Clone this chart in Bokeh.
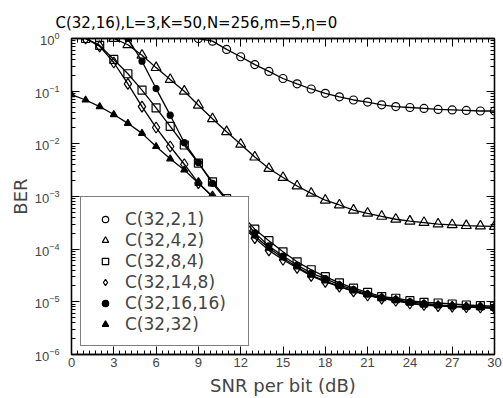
from bokeh.plotting import figure
from bokeh.models import (LinearAxis, LogAxis, FixedTicker, Legend, LegendItem,
                          Range1d, CustomJSTickFormatter)
from bokeh.embed import file_html
from bokeh.resources import INLINE

# ---------------- data ----------------
title_text = "C(32,16),L=3,K=50,N=256,m=5,\u03b7=0"
x_label = "SNR per bit (dB)"
y_label = "BER"
x_ticks = [0, 3, 6, 9, 12, 15, 18, 21, 24, 27, 30]
y_ticks = [1e-6, 1e-5, 1e-4, 1e-3, 1e-2, 1e-1, 1e0]

labels = ["C(32,2,1)", "C(32,4,2)", "C(32,8,4)", "C(32,14,8)", "C(32,16,16)", "C(32,32)"]

snr_a = list(range(9, 31))
ber_a = [1.0, 0.89, 0.62, 0.45, 0.32, 0.237, 0.174, 0.138, 0.110, 0.091, 0.078,
         0.068, 0.062, 0.055, 0.051, 0.049, 0.047, 0.045, 0.044, 0.043, 0.042, 0.042]

snr_b = list(range(3, 31))
ber_b = [1.0, 0.76, 0.48, 0.28, 0.166, 0.10, 0.054, 0.030, 0.017, 0.0098, 0.0056,
         0.0034, 0.0023, 0.00158, 0.00115, 0.00085, 0.00069, 0.00055, 0.00048,
         0.00042, 0.00037, 0.00034, 0.00032, 0.00030, 0.00029, 0.00028, 0.000275, 0.00027]

snr_c = list(range(1, 31))
ber_c = [1.0, 0.74, 0.40, 0.214, 0.105, 0.048, 0.0214, 0.0095, 0.0043, 0.0019,
         0.00091, 0.00047, 0.00024, 0.000145, 8.9e-5, 5.75e-5, 4.07e-5, 3.0e-5,
         2.3e-5, 1.82e-5, 1.51e-5, 1.26e-5, 1.17e-5, 1.05e-5, 9.8e-6, 9.5e-6,
         9.1e-6, 8.7e-6, 8.5e-6, 8.3e-6]

snr_d = list(range(1, 31))
ber_d = [1.0, 0.71, 0.35, 0.138, 0.051, 0.0204, 0.0089, 0.0041, 0.0018, 0.0010,
         0.00052, 0.00029, 0.000162, 9.5e-5, 6.3e-5, 4.4e-5, 3.1e-5, 2.4e-5,
         1.95e-5, 1.58e-5, 1.32e-5, 1.15e-5, 1.05e-5, 9.3e-6, 8.7e-6, 8.3e-6,
         8.1e-6, 7.9e-6, 7.8e-6, 7.6e-6]

snr_e = list(range(4, 31))
ber_e = [1.0, 0.37, 0.112, 0.035, 0.0105, 0.0044, 0.00178, 0.00085, 0.00043,
         0.000204, 0.000115, 7.4e-5, 5.0e-5, 3.5e-5, 2.75e-5, 2.1e-5, 1.7e-5,
         1.41e-5, 1.2e-5, 1.1e-5, 1.0e-5, 9.3e-6, 8.7e-6, 8.3e-6, 8.1e-6, 8.1e-6, 7.9e-6]

snr_f = list(range(0, 31))
ber_f = [0.086, 0.068, 0.051, 0.036, 0.0245, 0.0158, 0.0089, 0.0052, 0.0032,
         0.00178, 0.0010, 0.00055, 0.00032, 0.000178, 0.000105, 6.8e-5, 4.6e-5,
         3.2e-5, 2.5e-5, 1.95e-5, 1.62e-5, 1.35e-5, 1.17e-5, 1.05e-5, 9.5e-6,
         8.7e-6, 8.5e-6, 8.1e-6, 7.9e-6, 7.8e-6, 7.6e-6]

series = [
    (snr_a, ber_a, "circle", False, 8),
    (snr_b, ber_b, "triangle", False, 10),
    (snr_c, ber_c, "square", False, 8),
    (snr_d, ber_d, "diamond", False, 11),
    (snr_e, ber_e, "circle", True, 6),
    (snr_f, ber_f, "triangle", True, 7),
]

# ---------------- figure ----------------
FONT = "DejaVu Sans"
TICK_FONT = "Liberation Sans"

W, H = 503, 398
B_LEFT, B_RIGHT, B_TOP, B_BOTTOM = 71, 9, 38, 43

p = figure(width=W, height=H, y_axis_type="log",
           x_range=Range1d(0, 30), y_range=Range1d(1e-6, 1),
           output_backend="svg", toolbar_location=None,
           min_border_left=B_LEFT, min_border_right=B_RIGHT,
           min_border_top=B_TOP, min_border_bottom=B_BOTTOM)

p.xgrid.visible = False
p.ygrid.visible = False
p.outline_line_color = "black"
p.outline_line_width = 1.3
p.background_fill_color = "white"
p.border_fill_color = "white"

p.title.text = title_text
p.title.align = "left"
p.title.offset = -16
p.title.standoff = 13
p.title.vertical_align = "bottom"
p.title.text_font = FONT
p.title.text_font_size = "15px"
p.title.text_font_style = "normal"
p.title.text_color = "black"

x_ticker = FixedTicker(ticks=x_ticks,
                       minor_ticks=[3 * i / 7 for i in range(71) if i % 7])
y_ticker = FixedTicker(ticks=y_ticks,
                       minor_ticks=[m * 10.0 ** e for e in range(-6, 0) for m in range(2, 10)])

def style_axis(ax):
    ax.axis_line_color = "black"
    ax.axis_line_width = 1.3
    ax.major_tick_line_color = "black"
    ax.minor_tick_line_color = "black"
    ax.major_tick_line_width = 1
    ax.minor_tick_line_width = 1
    ax.major_tick_in = 8
    ax.major_tick_out = 0
    ax.minor_tick_in = 4
    ax.minor_tick_out = 0

xa = p.xaxis[0]
xa.ticker = x_ticker
style_axis(xa)
xa.axis_label = x_label
xa.axis_label_text_font = FONT
xa.axis_label_text_font_size = "18px"
xa.axis_label_text_font_style = "normal"
xa.axis_label_standoff = 5
xa.major_label_text_font = TICK_FONT
xa.major_label_text_font_size = "13px"
xa.major_label_standoff = 3

ya = p.yaxis[0]
ya.ticker = y_ticker
style_axis(ya)
ya.axis_label = y_label
ya.axis_label_text_font = FONT
ya.axis_label_text_font_size = "18px"
ya.axis_label_text_font_style = "normal"
ya.axis_label_standoff = 1
ya.major_label_text_font = TICK_FONT
ya.major_label_text_font_size = "13px"
ya.major_label_standoff = 12

blank = CustomJSTickFormatter(code="return ''")
top = LinearAxis(ticker=x_ticker, formatter=blank, major_label_standoff=0,
                 major_label_text_font_size="1px")
style_axis(top)
p.add_layout(top, "above")
right = LogAxis(ticker=y_ticker, formatter=blank, major_label_standoff=0,
                major_label_text_font_size="1px")
style_axis(right)
p.add_layout(right, "right")

items = []
for (xs, ys, mk, filled, sz), lab in zip(series, labels):
    p.line(xs, ys, line_color="black", line_width=1.3)
    r = p.scatter(xs, ys, marker=mk, size=sz, line_color="black", line_width=1.2,
                  fill_color="black" if filled else None)
    items.append(LegendItem(label=lab, renderers=[r]))

legend = Legend(items=items, location=(9, 8))
legend.border_line_color = "black"
legend.border_line_width = 1.3
legend.background_fill_color = "white"
legend.background_fill_alpha = 1.0
legend.padding = 11
legend.spacing = 0
legend.margin = 0
legend.label_height = 21
legend.glyph_height = 16
legend.glyph_width = 26
legend.label_standoff = 7
legend.label_width = 112
legend.label_text_font = FONT
legend.label_text_font_size = "17px"
legend.label_text_baseline = "middle"
p.add_layout(legend)

open("out.html", "w").write(file_html(p, INLINE))
